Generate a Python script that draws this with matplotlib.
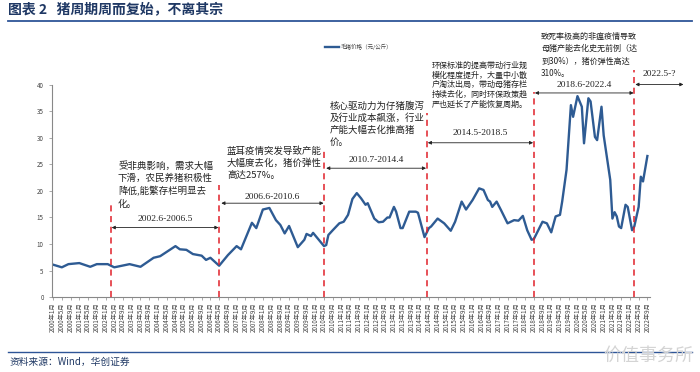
# -*- coding: utf-8 -*-
"""
猪周期：毛猪价格走势 2000-2022
"""

import matplotlib
matplotlib.use('Agg')
import matplotlib.pyplot as plt

plt.rcParams['font.family'] = ['Noto Sans CJK SC', 'DejaVu Sans']
plt.rcParams['axes.unicode_minus'] = False

# 毛猪价格（元/公斤），从图上读出的拐点
dates = ['2000-01', '2000-05', '2000-08', '2001-01', '2001-06', '2001-09',
         '2002-02', '2002-05', '2002-12', '2003-05', '2003-11', '2004-02',
         '2004-09', '2004-11', '2005-02', '2005-05', '2005-09', '2005-11',
         '2006-01', '2006-05', '2006-09', '2007-01', '2007-03', '2007-08',
         '2007-10', '2008-01', '2008-04', '2008-07', '2008-09', '2008-11',
         '2009-01', '2009-05', '2009-08', '2009-09', '2009-11', '2009-12',
         '2010-05', '2010-06', '2010-07', '2010-09', '2010-12', '2011-02',
         '2011-04', '2011-06', '2011-08', '2011-10', '2011-12', '2012-01',
         '2012-04', '2012-06', '2012-08', '2012-10', '2012-11', '2013-01',
         '2013-02', '2013-04', '2013-05', '2013-08', '2013-11', '2013-12',
         '2014-03', '2014-05', '2014-06', '2014-09', '2014-12', '2015-03',
         '2015-05', '2015-08', '2015-10', '2016-01', '2016-04', '2016-06',
         '2016-08', '2016-09', '2016-10', '2016-12', '2017-02', '2017-05',
         '2017-08', '2017-10', '2017-12', '2018-02', '2018-04', '2018-05',
         '2018-09', '2018-11', '2019-01', '2019-03', '2019-05', '2019-06',
         '2019-08', '2019-10', '2019-11', '2020-01', '2020-03', '2020-04',
         '2020-06', '2020-07', '2020-09', '2020-10', '2020-12', '2021-01',
         '2021-02', '2021-04', '2021-05', '2021-06', '2021-07', '2021-08',
         '2021-09', '2021-11', '2021-12', '2022-02', '2022-03', '2022-05',
         '2022-06', '2022-07', '2022-09']
price = [6.1, 5.6, 6.2, 6.4, 5.7, 6.2,
         6.2, 5.6, 6.2, 5.7, 7.4, 7.7,
         9.6, 9.0, 8.9, 8.1, 7.8, 7.0,
         7.4, 5.9, 7.9, 9.6, 9.0, 14.0,
         13.0, 16.5, 16.8, 14.5, 13.6, 12.0,
         13.4, 9.4, 10.8, 11.9, 11.5, 12.1,
         9.6, 9.8, 11.7, 12.6, 13.9, 14.2,
         15.5, 18.5, 19.6, 18.6, 17.4, 17.7,
         14.8, 14.1, 14.2, 15.0, 15.0, 17.0,
         16.1, 13.0, 13.0, 16.1, 16.1, 15.9,
         11.3, 13.0, 13.3, 14.8, 13.9, 12.5,
         14.2, 18.0, 16.5, 18.3, 20.5, 20.2,
         18.3, 18.0, 17.0, 18.0, 16.4, 13.9,
         14.5, 14.4, 15.3, 12.6, 10.8, 10.9,
         14.2, 13.9, 12.2, 15.2, 15.5, 18.0,
         24.0, 36.2, 34.0, 37.9, 35.9, 29.0,
         37.5, 36.9, 30.2, 29.6, 35.9, 30.5,
         27.7, 22.1, 14.8, 16.0, 15.2, 13.3,
         13.0, 17.4, 17.0, 12.6, 13.3, 17.0,
         22.7, 21.8, 26.6]

# 各轮周期：分界(月序号)、虚线顶部、箭头区间与高度、文字
cycle_lines = [26.5, 76, 124, 171, 220, 266]
line_tops = [17.4, 21.1, 28.1, 34.7, 38.7, 42.8]
periods = ['2002.6-2006.5', '2006.6-2010.6', '2010.7-2014.4',
           '2014.5-2018.5', '2018.6-2022.4', '2022.5-?']
arrow_x = [(26.8, 75.7), (77.0, 123.8), (125.0, 170.7),
           (171.5, 219.7), (220.5, 265.7), (266.5, 288.5)]
arrow_y = [13.1, 17.7, 24.3, 29.1, 38.5, 40.1]
label_dy = [1.65, 1.2, 1.5, 1.8, 1.45, 2.05]

notes = ['受非典影响，需求大幅\n下滑，农民养猪积极性\n降低,能繁存栏明显去\n化。',
         '蓝耳疫情突发导致产能\n大幅度去化，猪价弹性\n高达257%。',
         '核心驱动力为仔猪腹泻\n及行业成本飙涨，行业\n产能大幅去化推高猪\n价。',
         '环保标准的提高带动行业规\n模化程度提升，大量中小散\n户淘汰出局，带动母猪存栏\n持续去化，同时环保政策趋\n严也延长了产能恢复周期。',
         '致死率极高的非瘟疫情导致\n母猪产能去化史无前例（达\n到30%），猪价弹性高达\n310%。']


def month_index(s):
    '''把 'YYYY-MM' 转成相对 2000年1月 的月序号'''
    y, m = s.split('-')
    return (int(y) - 2000) * 12 + int(m) - 1


W, H = 700, 372
fig = plt.figure(figsize=(W / 100, H / 100), dpi=100)


def px(x, y):
    return x / W, 1 - y / H


# 标题与分隔线
fig.text(*px(8, 9), '图表 2   猪周期周而复始，不离其宗', fontsize=10,
         fontweight='bold', color='#1F3864', va='center', ha='left')
fig.add_artist(plt.Line2D([8 / W, 692 / W], [1 - 20.5 / H] * 2,
                          color='#2E5597', lw=1.3))
fig.add_artist(plt.Line2D([8 / W, 692 / W], [1 - 352 / H] * 2,
                          color='#2E5597', lw=1.0))
fig.text(*px(10, 362), '资料来源：Wind，华创证券', fontsize=7,
         color='#1F3864', style='italic', va='center', ha='left')
fig.text(*px(603, 356), '价值事务所', fontsize=13, color='#d4d4d4',
         va='center', ha='left')

ax = fig.add_axes([52 / W, 1 - 297 / H, 598 / W, 212 / H])
x = [month_index(d) for d in dates]
ax.plot(x, price, color='#2E5B93', lw=1.7, solid_joinstyle='round',
        label='毛猪价格（元/公斤）')

ax.set_xlim(-0.5, 273.2)
ax.set_ylim(0, 40)
ax.set_yticks(range(0, 41, 5))
ticks = list(range(0, 273, 4))
ax.set_xticks(ticks)
ax.set_xticklabels(['%d年%d月' % (2000 + t // 12, t % 12 + 1) for t in ticks],
                   rotation=90, fontsize=4.5, color='#444444')
ax.tick_params(axis='y', labelsize=4.5, labelcolor='#444444', length=2,
               width=0.5, color='#888888', pad=4)
ax.tick_params(axis='x', length=2, width=0.5, color='#888888', pad=2)
for s in ['top', 'right']:
    ax.spines[s].set_visible(False)
for s in ['left', 'bottom']:
    ax.spines[s].set_color('#888888')
    ax.spines[s].set_linewidth(0.8)

# 周期分界虚线
for xm, top in zip(cycle_lines, line_tops):
    ax.plot([xm, xm], [0, top], color='#E0202A', lw=1.1, ls=(0, (4, 3)),
            clip_on=False, zorder=3)

# 周期区间箭头
for (x0, x1), yy, dy, lab in zip(arrow_x, arrow_y, label_dy, periods):
    ax.annotate('', xy=(x1, yy), xytext=(x0, yy), annotation_clip=False,
                arrowprops=dict(arrowstyle='<|-|>', color='#222222', lw=0.6,
                                mutation_scale=5, shrinkA=0, shrinkB=0))
    ax.text((x0 + x1) / 2, yy + dy, lab, fontsize=6.8, ha='center',
            va='center', family='Liberation Serif', color='#222222',
            clip_on=False)

# 各周期说明文字
note_pos = [(118, 161), (227, 146), (330, 101), (432, 61), (541, 32)]
note_size = [6.8, 6.8, 6.8, 5.8, 5.8]
note_ls = [1.43, 1.43, 1.38, 1.1, 1.47]
for (nx, ny), txt, fs, ls in zip(note_pos, notes, note_size, note_ls):
    fig.text(*px(nx, ny), txt, fontsize=fs, ha='left', va='top',
             color='#222222', linespacing=ls)

# 图例
leg = ax.legend(loc='upper left', bbox_to_anchor=(268 / 598, 1.22),
                frameon=False, fontsize=4, handlelength=2.5,
                handletextpad=0.4)
for t in leg.get_texts():
    t.set_color('#444444')

plt.savefig('out.png', dpi=100)
